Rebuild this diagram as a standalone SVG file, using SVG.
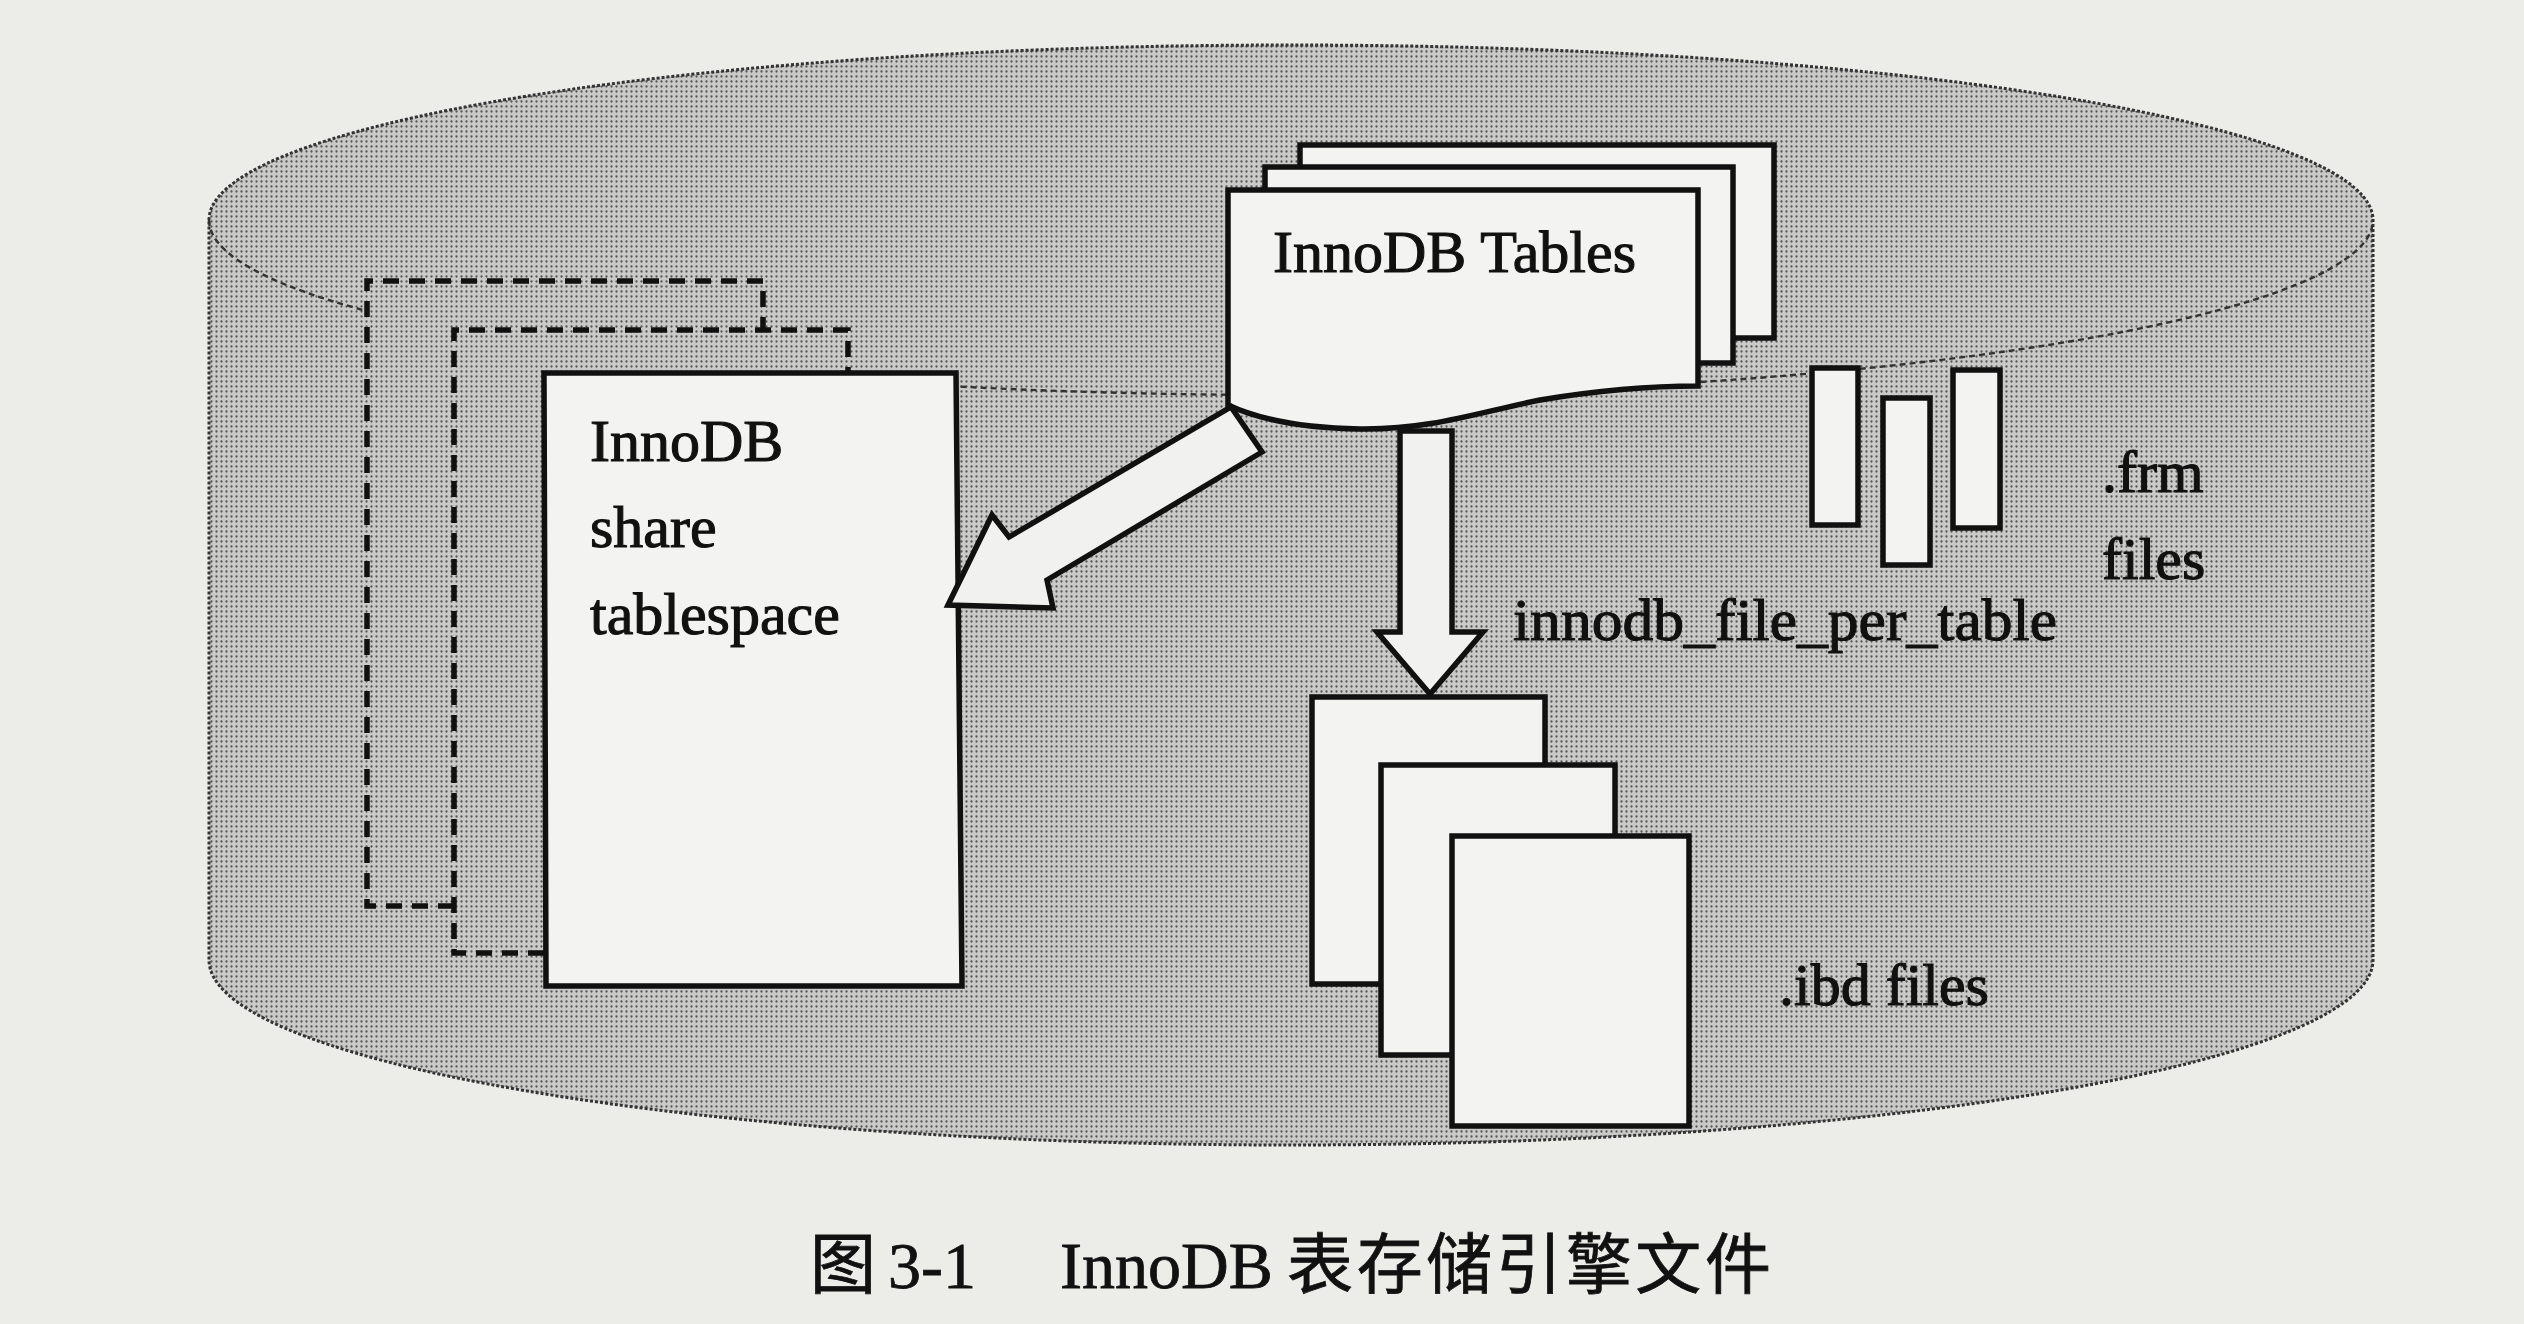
<svg xmlns="http://www.w3.org/2000/svg" width="2524" height="1324" viewBox="0 0 2524 1324">
<defs>
<pattern id="stip" width="5" height="5" patternUnits="userSpaceOnUse">
<rect width="5" height="5" fill="#cacac8"/>
<circle cx="1.5" cy="1.5" r="1.15" fill="#555"/>
</pattern>
<style>
.box{fill:#f3f3f1;stroke:#111;stroke-width:5.5;stroke-linejoin:miter}
.dash{fill:none;stroke:#111;stroke-width:5.5;stroke-dasharray:16 10}
.dfill{fill:url(#stip);stroke:none}
.arrow{fill:#f1f1ef;stroke:#111;stroke-width:5.5;stroke-linejoin:miter}
.t{font-family:"Liberation Serif","Times New Roman",serif;font-size:60px;fill:#111;stroke:#111;stroke-width:1.1}
.cap{font-family:"Liberation Serif","Noto Sans CJK SC",serif;font-size:66px;fill:#111;stroke:#111;stroke-width:0.8}
</style>
</defs>
<rect width="2524" height="1324" fill="#ecece9"/>
<g id="cylinder">
<path d="M209,220 A1082,175 0 0 1 2373,220 L2373,960 A1082,185 0 0 1 209,960 Z" fill="url(#stip)" stroke="#333" stroke-width="3" stroke-dasharray="3 2"/>
<path d="M209,220 A1082,175 0 0 0 2373,220" fill="none" stroke="#333" stroke-width="2.4" stroke-dasharray="6 4"/>
</g>
<g id="shared-tablespace">
<path class="dfill" d="M367,281 L763,281 L763,330 L848,330 L848,373 L544,373 L544,953 L454,953 L454,906 L367,906 Z"/>
<path class="dash" d="M454,906 L367,906 L367,281 L763,281 L763,330"/>
<path class="dash" d="M544,953 L454,953 L454,330 L848,330 L848,373"/>
<path class="box" d="M544,373 L956,373 L962,986 L546,986 Z"/>
<text class="t" x="590" y="461">InnoDB</text>
<text class="t" x="590" y="547">share</text>
<text class="t" x="590" y="634">tablespace</text>
</g>
<g id="innodb-tables">
<rect class="box" x="1300" y="145" width="474" height="193"/>
<rect class="box" x="1265" y="167" width="468" height="196"/>
<path class="box" d="M1228,405 L1228,190 L1698,190 L1698,386 C1650,386 1600,390 1540,400 C1480,412 1430,430 1360,429 C1300,428 1260,420 1228,405 Z"/>
<text class="t" x="1273" y="272">InnoDB Tables</text>
</g>
<g id="connectors">
<path class="arrow" d="M948,605 L992,515 L1009,537 L1231,407 L1262,452 L1047,580 L1053,608 Z"/>
<path class="arrow" d="M1400,431 L1452,431 L1452,632 L1483,632 L1430,694 L1377,632 L1400,632 Z"/>
</g>
<g id="frm-files">
<rect class="box" x="1812" y="368" width="46" height="157"/>
<rect class="box" x="1883" y="398" width="47" height="167"/>
<rect class="box" x="1953" y="370" width="47" height="158"/>
<text class="t" x="2102" y="492">.frm</text>
<text class="t" x="2102" y="579">files</text>
</g>
<g id="ibd-files">
<rect class="box" x="1312" y="697" width="233" height="287"/>
<rect class="box" x="1381" y="765" width="234" height="290"/>
<rect class="box" x="1452" y="836" width="237" height="290"/>
<text class="t" x="1779" y="1005">.ibd files</text>
</g>
<g id="label-file-per-table">
<text class="t" x="1513" y="640" textLength="544" lengthAdjust="spacingAndGlyphs">innodb_file_per_table</text>
</g>
<g id="caption">
<text class="cap" y="1288"><tspan x="810">图 </tspan><tspan x="888">3-1 </tspan><tspan x="1060">InnoDB</tspan><tspan x="1287" textLength="484" lengthAdjust="spacing">表存储引擎文件</tspan></text>
</g>
</svg>
